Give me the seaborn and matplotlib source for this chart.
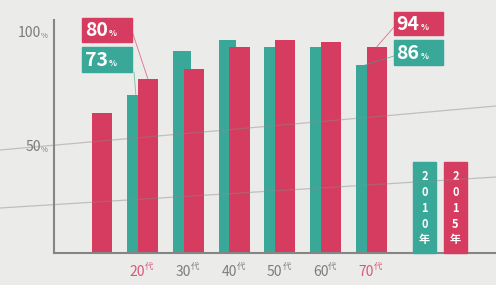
import numpy as np
import pandas as pd
import matplotlib
matplotlib.use('Agg')
import matplotlib.pyplot as plt
import seaborn as sns
from matplotlib.patches import Rectangle
from matplotlib.lines import Line2D
from matplotlib.transforms import blended_transform_factory

# data
ages = ['', '20', '30', '40', '50', '60', '70']
share_2010 = [np.nan, 73, 92, 97, 94, 94, 86]
share_2015 = [65, 80, 84, 94, 97, 96, 94]
years = ['2010年', '2015年']
highlight = [False, True, False, False, False, False, True]
yticks = [50, 100]

teal = '#3aa898'
red = '#d63b60'
grey = '#858585'
bg = '#ebebe9'

W, H = 496, 285

def fig_xy(px, py):
    # image pixel -> figure fraction
    return px / W, 1 - py / H

sns.set_style('white', {'axes.facecolor': bg})
plt.rcParams['font.family'] = ['Noto Sans CJK JP', 'DejaVu Sans']

fig = plt.figure(figsize=(W / 100, H / 100), dpi=100, facecolor=bg)
ax = fig.add_axes([54 / W, 1 - 253 / H, (W - 54) / W, (253 - 20) / H])

pos = np.arange(len(ages))
df = pd.DataFrame({'pos': pos, 'y2010': share_2010, 'y2015': share_2015})

# 2010 bars sit behind, 2015 bars overlap them
sns.barplot(x=df['pos'] - 0.13, y=df['y2010'], native_scale=True, width=0.39,
            color=teal, saturation=1, errorbar=None, linewidth=0, ax=ax)
sns.barplot(x=df['pos'] + 0.13, y=df['y2015'], native_scale=True, width=0.44,
            color=red, saturation=1, errorbar=None, linewidth=0, ax=ax)

ax.set_xlim(-0.917, 8.73)
ax.set_ylim(3.5, 105.7)
ax.set_xlabel('')
ax.set_ylabel('')
ax.set_xticks([])
ax.set_yticks(yticks)
ax.set_yticklabels([])
ax.tick_params(axis='y', direction='in', length=9, width=1.2, color=grey)
for s in ['top', 'right']:
    ax.spines[s].set_visible(False)
for s in ['left', 'bottom']:
    ax.spines[s].set_color(grey)
    ax.spines[s].set_linewidth(1.5)

# y tick labels with small %
ytr = blended_transform_factory(fig.transFigure, ax.transData)
for v in yticks:
    fig.text(41 / W, v, str(v), transform=ytr, ha='right', va='center',
             fontsize=10, color='#7a7a7a')
    fig.text(41 / W, v - 1.5, '%', transform=ytr, ha='left', va='center',
             fontsize=5.5, color='#7a7a7a')

# x labels: age + small 代
xtr = blended_transform_factory(ax.transData, fig.transFigure)
for i, (a, hl) in enumerate(zip(ages, highlight)):
    if not a:
        continue
    c = '#d9577a' if hl else '#7d7d7d'
    fig.text(i + 0.07, 1 - 272 / H, a, transform=xtr, ha='right', va='center',
             fontsize=10, color=c)
    fig.text(i + 0.07, 1 - 266 / H, '代', transform=xtr, ha='left', va='center',
             fontsize=6, color=c)

# value callouts
callouts = [
    (1, 'y2015', red, (82, 18, 132, 42), (132, 31)),
    (1, 'y2010', teal, (82, 47, 132, 72), (134, 72)),
    (6, 'y2015', red, (394, 12, 443, 35), (394, 27)),
    (6, 'y2010', teal, (394, 40, 443, 65), (394, 56)),
]
for i, col, c, (x0, y0, x1, y1), anchor in callouts:
    val = df.loc[i, col]
    bx, by = fig_xy(x0, y1)
    fig.patches.append(Rectangle((bx, by), (x1 - x0) / W, (y1 - y0) / H,
                                 transform=fig.transFigure, color=c, zorder=3))
    cx, cy = fig_xy((x0 + x1) / 2 + 1, (y0 + y1) / 2 + 1)
    fig.text(cx, cy, f'{val:.0f}', ha='right', va='center', fontsize=14,
             fontweight='bold', color='white', zorder=4)
    fig.text(cx + 1 / W, cy - 3 / H, '%', ha='left', va='center', fontsize=6,
             fontweight='bold', color='white', zorder=4)
    xoff = 0.13 if col == 'y2015' else -0.13
    ax.annotate('', xy=(i + xoff, val), xycoords='data',
                xytext=fig_xy(*anchor), textcoords='figure fraction',
                arrowprops=dict(arrowstyle='-', color=c, lw=0.6, alpha=0.7,
                                shrinkA=0, shrinkB=0))

# legend columns with stacked year text
for (x0, x1), c, yr in zip([(413, 436), (444, 467)], [teal, red], years):
    bx, by = fig_xy(x0, 253)
    fig.patches.append(Rectangle((bx, by), (x1 - x0) / W, (253 - 162) / H,
                                 transform=fig.transFigure, color=c, zorder=3))
    cx, cy = fig_xy((x0 + x1) / 2, 208)
    fig.text(cx, cy, '\n'.join(yr), ha='center', va='center', fontsize=8,
             fontweight='bold', color='white', linespacing=1.3, zorder=4)

# faint streaks across the photographed board
for (xa, ya), (xb, yb) in [((0, 150), (496, 106)), ((0, 208), (496, 177))]:
    fa, fb = fig_xy(xa, ya), fig_xy(xb, yb)
    fig.add_artist(Line2D([fa[0], fb[0]], [fa[1], fb[1]], transform=fig.transFigure,
                          color='#8a8a8a', lw=0.9, alpha=0.45, zorder=5))

fig.savefig('out.png', dpi=100, facecolor=bg)
